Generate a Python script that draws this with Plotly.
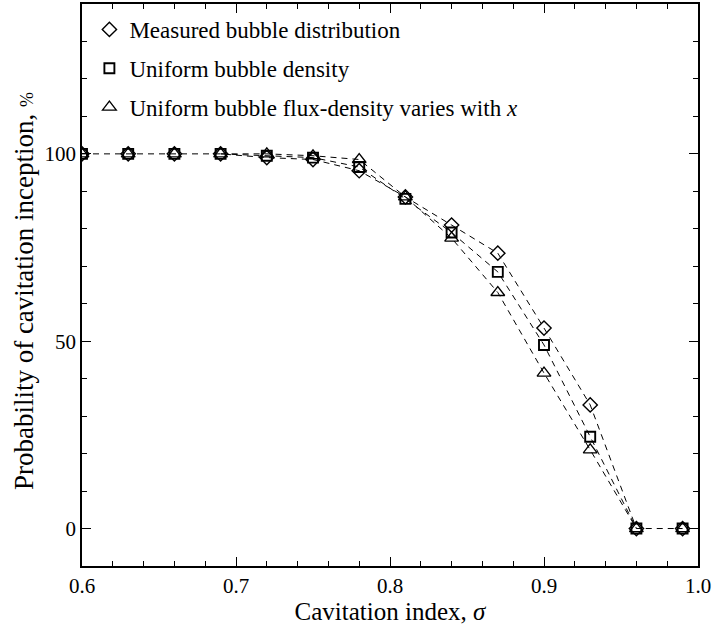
import plotly.graph_objects as go

sigma = [0.60, 0.63, 0.66, 0.69, 0.72, 0.75, 0.78, 0.81, 0.84, 0.87, 0.90, 0.93, 0.96, 0.99]
measured = [100, 100, 100, 100, 99, 98.5, 95.5, 88.5, 81, 73.5, 53.5, 33, 0, 0]
uniform_density = [100, 100, 100, 100, 99.5, 99, 96.5, 88, 79, 68.5, 49, 24.5, 0, 0]
uniform_flux = [100, 100, 100, 100, 100, 99.5, 98.5, 88.5, 77.5, 63, 41.5, 21, 0, 0]

series = [
    ("Measured bubble distribution", measured, "diamond-open", 11, 1.4),
    ("Uniform bubble density", uniform_density, "square-open", 10, 1.9),
    ("Uniform bubble flux-density varies with <i>x</i>", uniform_flux, "triangle-up-open", 12, 1.3),
]

x_ticks = [0.6, 0.7, 0.8, 0.9, 1.0]
x_ticklabels = ["0.6", "0.7", "0.8", "0.9", "1.0"]
y_ticks = [0, 50, 100]

font_family = "Liberation Serif, Times New Roman, serif"

fig = go.Figure()
for i, (name, vals, sym, size, lw) in enumerate(series):
    # shared flat segments (all at 100 at the start, all at 0 at the end) drawn once
    if i == 0:
        xs, ys = sigma, vals
    else:
        xs, ys = sigma[3:13], vals[3:13]
    fig.add_trace(go.Scatter(
        x=xs, y=ys, mode="lines",
        line=dict(color="black", width=1, dash="6px,5px"),
        showlegend=False, hoverinfo="skip",
    ))
for i, (name, vals, sym, size, lw) in enumerate(series):
    fig.add_trace(go.Scatter(
        x=sigma, y=vals, mode="markers", name=name,
        legendgroup=f"g{i}",
        marker=dict(symbol=sym, size=size, color="black", line=dict(color="black", width=lw)),
    ))

axis_common = dict(
    showgrid=False, zeroline=False, showline=True, linecolor="black", linewidth=1.5,
    mirror="ticks", ticks="inside", tickcolor="black", tickwidth=1, automargin=False,
    tickfont=dict(family=font_family, size=21, color="black"),
)

fig.update_xaxes(
    range=[0.6, 1.0], tickvals=x_ticks, ticktext=x_ticklabels, ticklen=9,
    minor=dict(dtick=0.02, ticks="inside", ticklen=5, tickcolor="black"),
    title=dict(text="Cavitation index, <i>σ</i>", font=dict(family=font_family, size=25, color="black"), standoff=6),
    **axis_common,
)
fig.update_yaxes(
    range=[-10, 140], tickvals=y_ticks, ticklen=9,
    minor=dict(dtick=10, ticks="inside", ticklen=5, tickcolor="black"),
    **axis_common,
)

fig.add_annotation(
    text="Probability of cavitation inception, <span style='font-size:18px'>%</span>",
    xref="paper", yref="paper", x=-0.095, y=0.49, xanchor="center", yanchor="middle",
    textangle=-90, showarrow=False,
    font=dict(family=font_family, size=27, color="black"),
)

fig.update_layout(
    width=713, height=636,
    margin=dict(l=82, r=15, t=4, b=70),
    paper_bgcolor="white", plot_bgcolor="white",
    font=dict(family=font_family, color="black"),
    legend=dict(x=0.012, y=0.993, xanchor="left", yanchor="top",
                font=dict(family=font_family, size=23, color="black"),
                tracegroupgap=6, bgcolor="rgba(0,0,0,0)", itemwidth=30),
)

fig.write_html("out.html")
